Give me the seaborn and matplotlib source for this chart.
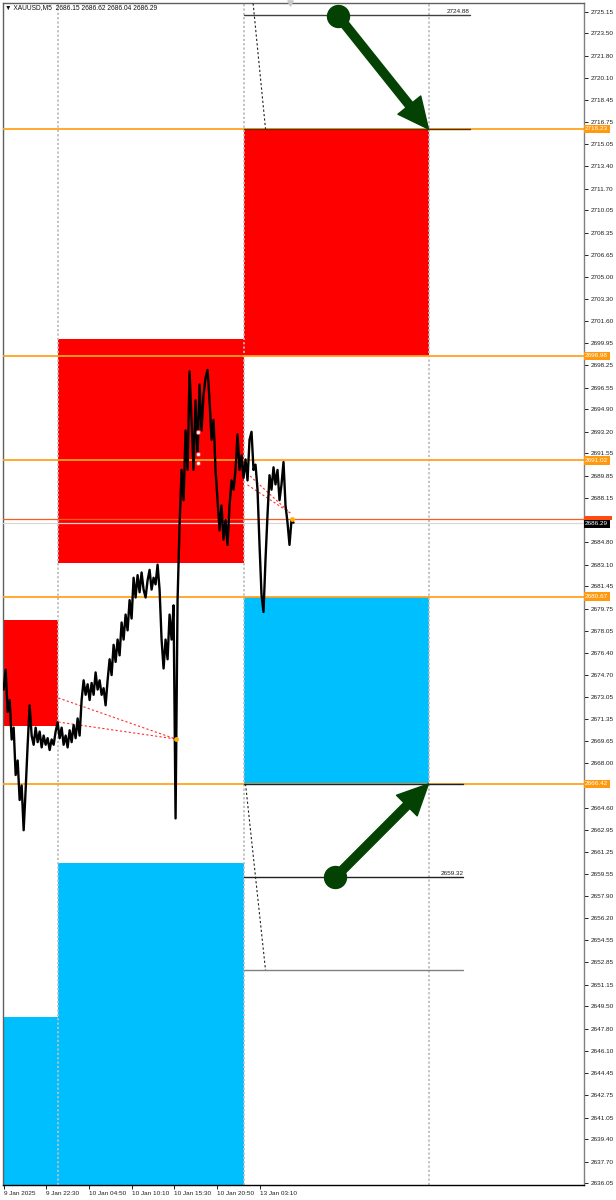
import numpy as np
import pandas as pd
import matplotlib
matplotlib.use("Agg")
import matplotlib.pyplot as plt
import matplotlib.transforms as mtransforms
import seaborn as sns

# XAUUSD M5 price path, one reading every 3 bars
close = [
    2673.6, 2675.1, 2671.9, 2672.8, 2669.8, 2670.7, 2667.1, 2668.2, 2665.2, 2666.3,
    2662.9, 2666.0, 2669.4, 2672.4, 2670.1, 2669.4, 2670.7, 2669.6, 2670.4, 2669.2,
    2670.1, 2669.4, 2669.9, 2669.0, 2669.8, 2669.4, 2670.4, 2671.1, 2669.9, 2670.7,
    2669.4, 2670.1, 2669.2, 2670.5, 2669.6, 2670.9, 2669.9, 2671.4, 2670.1, 2672.8,
    2674.3, 2673.2, 2674.0, 2672.8, 2674.1, 2673.2, 2674.9, 2673.6, 2674.3, 2673.2,
    2673.7, 2672.4, 2674.3, 2675.9, 2674.7, 2677.0, 2675.7, 2677.4, 2676.2, 2678.7,
    2677.4, 2679.3, 2678.1, 2680.4, 2679.0, 2682.1, 2680.6, 2682.3, 2681.0, 2682.5,
    2681.2, 2680.6, 2681.9, 2682.7, 2681.2, 2682.1, 2681.6, 2683.1, 2681.2, 2677.4,
    2675.2, 2677.4, 2675.9, 2679.3, 2677.4, 2680.0, 2663.8, 2680.4, 2686.1, 2690.3,
    2688.0, 2693.3, 2690.3, 2697.8, 2694.1, 2690.3, 2695.6, 2691.4, 2696.8, 2693.3,
    2696.0, 2697.3, 2697.9, 2695.6, 2692.6, 2694.1, 2690.3, 2688.0, 2685.7, 2687.6,
    2685.0, 2686.5, 2684.6, 2687.6, 2689.5, 2688.8, 2690.3, 2693.0, 2690.3, 2691.4,
    2689.7, 2691.1, 2689.5, 2692.6, 2693.2, 2690.3, 2690.7, 2688.8, 2684.6, 2680.8,
    2679.5, 2683.5, 2686.9, 2689.9, 2688.8, 2690.5, 2689.2, 2690.3, 2688.0, 2689.2,
    2690.9, 2687.6, 2686.3, 2684.6, 2686.5, 2686.29,
]

time_ticks = [0, 64, 128, 192, 256, 320, 384]
time_labels = ["9 Jan 2025", "9 Jan 22:30", "10 Jan 04:50", "10 Jan 10:10",
               "10 Jan 15:30", "10 Jan 20:50", "13 Jan 03:10"]

price_ticks = [
    2725.15, 2723.50, 2721.80, 2720.10, 2718.45, 2716.75, 2715.05, 2713.40, 2711.70,
    2710.05, 2708.35, 2706.65, 2705.00, 2703.30, 2701.60, 2699.95, 2698.25, 2696.55,
    2694.90, 2693.20, 2691.55, 2689.85, 2688.15, 2686.50, 2684.80, 2683.10, 2681.45,
    2679.75, 2678.05, 2676.40, 2674.70, 2673.05, 2671.35, 2669.65, 2668.00, 2666.30,
    2664.60, 2662.95, 2661.25, 2659.55, 2657.90, 2656.20, 2654.55, 2652.85, 2651.15,
    2649.50, 2647.80, 2646.10, 2644.45, 2642.75, 2641.05, 2639.40, 2637.70, 2636.05,
]
# ticks whose labels sit under the price tags
hidden_ticks = [2686.50, 2666.30]

day_bounds = [82, 360, 638]
levels = [2716.23, 2698.98, 2691.02, 2680.67, 2666.42]
bid = 2686.29
ask = 2686.54
y_low, y_high = 2635.92, 2725.81

# supply / demand zones: (start bar, end bar, low, high)
red_zones = [(-1, 82, 2670.85, 2678.89), (82, 360, 2683.22, 2700.26), (360, 638, 2698.98, 2716.23)]
blue_zones = [(-1, 82, y_low, 2648.70), (82, 360, y_low, 2660.41), (360, 638, 2666.42, 2680.67)]

# short target lines: (price, start bar, end bar, colour, label)
targets = [
    (2724.88, 360, 700, "#404040", "2724.88"),
    (2716.23, 360, 700, "#5a3000", ""),
    (2666.42, 360, 690, "#202020", ""),
    (2659.32, 360, 690, "#202020", "2659.32"),
    (2652.27, 360, 690, "#808080", ""),
]

# dashed projection lines and red dotted trend lines: (bar0, price0, bar1, price1)
dashed = [(372, 2727.0, 393, 2716.23), (363, 2666.42, 393, 2652.27)]
red_dotted = [(82, 2672.96, 258, 2669.84), (82, 2671.13, 258, 2669.84),
              (360, 2690.30, 430, 2687.03), (366, 2689.16, 430, 2687.03)]

# green arrows: (circle bar, circle price, tip bar, tip price)
arrows = [(502, 2724.82, 637.5, 2716.23), (498, 2659.34, 637.5, 2666.42)]

df = pd.DataFrame({"bar": np.arange(len(close)) * 3, "price": close})

sns.set_style("white")
plt.rcParams["font.family"] = ["Liberation Sans", "DejaVu Sans"]

fig = plt.figure(figsize=(6.16, 12), dpi=100)
ax = fig.add_axes([3 / 616, 15 / 1200, 581 / 616, 1182 / 1200])
ax.set_xlim(-1, 871)
ax.set_ylim(y_low, y_high)

for x0, x1, lo, hi in red_zones:
    ax.fill_between([x0, x1], lo, hi, color="#FF0000", lw=0, zorder=1)
for x0, x1, lo, hi in blue_zones:
    ax.fill_between([x0, x1], lo, hi, color="#00BFFF", lw=0, zorder=1)

for b in day_bounds:
    ax.axvline(b, color="#BDBDBD", lw=1.3, ls=(0, (1.2, 1.2)), zorder=2)

for lv in levels:
    ax.axhline(lv, color="#FFA21F", lw=1.3, zorder=3)
ax.axhline(ask, color="#FF5A1F", lw=0.9, zorder=3)
ax.axhline(bid, color="#D8D8D8", lw=0.9, zorder=3)

for p, x0, x1, c, lbl in targets:
    ax.plot([x0, x1], [p, p], color=c, lw=1.0, zorder=4)
    if lbl:
        ax.text(x1, p + 0.12, lbl, ha="right", va="bottom", fontsize=4.6, color="#202020", zorder=6)

for x0, p0, x1, p1 in dashed:
    ax.plot([x0, x1], [p0, p1], color="#202020", lw=0.8, ls=(0, (2, 2)), zorder=4)
for x0, p0, x1, p1 in red_dotted:
    ax.plot([x0, x1], [p0, p1], color="#FF3030", lw=0.8, ls=(0, (2, 2)), zorder=4)

sns.lineplot(data=df, x="bar", y="price", color="black", linewidth=1.7,
             sort=False, estimator=None, ax=ax, zorder=5)
ax.scatter([258, 432], [2669.84, 2686.6], s=6, color="#FFB000", zorder=6)
ax.scatter([291, 291, 291], [2693.19, 2691.51, 2690.83], s=9, facecolor="white",
           edgecolor="#FF3030", linewidth=0.7, zorder=6)

green = "#034203"
for cb, cp, tb, tp in arrows:
    ax.annotate("", xy=(tb, tp), xytext=(cb, cp),
                arrowprops=dict(arrowstyle="simple,head_length=2.2,head_width=2.1,tail_width=0.6",
                                color=green, mutation_scale=10, shrinkA=0, shrinkB=0),
                zorder=7)
    ax.scatter([cb], [cp], s=250, color=green, zorder=8)

# right price scale
ax.yaxis.tick_right()
ax.set_yticks(price_ticks)
ax.set_yticklabels(["" if v in hidden_ticks else f"{v:.2f}" for v in price_ticks])
ax.set_xticks(time_ticks)
ax.set_xticklabels(time_labels, ha="left")
ax.tick_params(axis="both", which="both", direction="out", length=3, width=0.7,
               labelsize=4.6, pad=1.5, colors="#202020")
ax.tick_params(axis="y", right=True, left=False)
ax.tick_params(axis="x", bottom=True)
ax.set_xlabel("")
ax.set_ylabel("")

trans = mtransforms.blended_transform_factory(ax.transAxes, ax.transData)
for lv in levels:
    ax.text(1.002, lv, f"{lv:.2f}", transform=trans, ha="left", va="center", fontsize=4.6,
            color="white", clip_on=False, zorder=10,
            bbox=dict(boxstyle="square,pad=0.25", fc="#FF9A10", ec="none"))
# ask tag peeks out above the bid tag
ax.fill_between([871, 913], ask - 0.05, ask + 0.28, color="#FF4A10", lw=0,
                clip_on=False, zorder=10)
ax.text(1.002, bid - 0.1, f"{bid:.2f}", transform=trans, ha="left", va="center", fontsize=4.6,
        color="white", clip_on=False, zorder=11,
        bbox=dict(boxstyle="square,pad=0.25", fc="black", ec="none"))

ax.scatter([430], [y_high], marker="v", s=14, color="#C8C8C8", clip_on=False, zorder=9)

for side in ["left", "top"]:
    ax.spines[side].set_color("#606060")
ax.spines["right"].set_color("#808080")
ax.spines["bottom"].set_color("black")
for s in ax.spines.values():
    s.set_linewidth(1.0)

fig.text(5 / 616, 1 - 8 / 1200, "\u25bc XAUUSD,M5  2686.15 2686.62 2686.04 2686.29",
         fontsize=4.8, va="center", ha="left", color="#101010")

fig.savefig("out.png", dpi=100)
